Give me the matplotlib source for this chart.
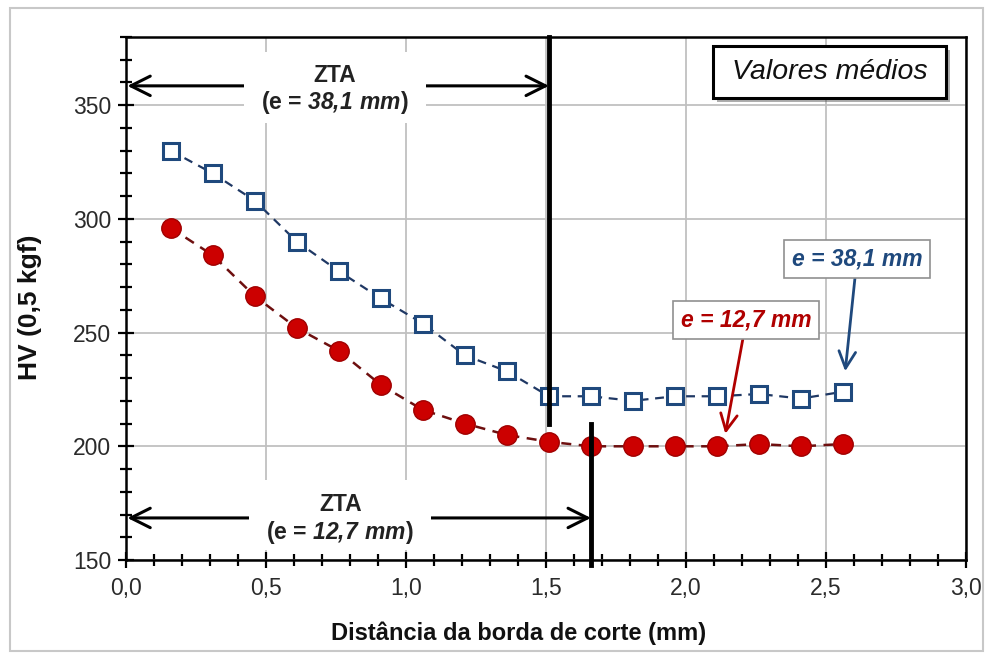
import matplotlib.pyplot as plt
import matplotlib.patheffects as pe
from matplotlib.patches import Rectangle
from matplotlib.ticker import MultipleLocator, FuncFormatter

plt.rcParams['font.family'] = ['Liberation Sans', 'DejaVu Sans']
plt.rcParams['mathtext.fontset'] = 'custom'
plt.rcParams['mathtext.rm'] = 'Liberation Sans:bold'
plt.rcParams['mathtext.bfit'] = 'Liberation Sans:italic:bold'

# Distance from cut edge (mm) and mean Vickers hardness
dist = [0.16, 0.31, 0.46, 0.61, 0.76, 0.91, 1.06, 1.21, 1.36, 1.51,
        1.66, 1.81, 1.96, 2.11, 2.26, 2.41, 2.56]
hv_381 = [330, 320, 308, 290, 277, 265, 254, 240, 233, 222,
          222, 220, 222, 222, 223, 221, 224]
hv_127 = [296, 284, 266, 252, 242, 227, 216, 210, 205, 202,
          200, 200, 200, 200, 201, 200, 201]

# heat affected zone limits
zta_381 = 1.51
zta_127 = 1.66

blue = '#1f497d'
red = '#cc0000'

fig = plt.figure(figsize=(9.92, 6.53), dpi=100)
fig.patches.append(Rectangle((0.010, 0.003), 0.981, 0.984, transform=fig.transFigure,
                             fill=False, edgecolor='#c8c8c8', linewidth=1.5))
ax = fig.add_axes([0.127, 0.1424, 0.847, 0.801])

ax.plot(dist, hv_381, linestyle=(0, (4, 3)), color='#1f3864', linewidth=1.6,
        marker='s', markersize=12, markerfacecolor='white',
        markeredgecolor=blue, markeredgewidth=2.2, zorder=4)
ax.plot(dist, hv_127, linestyle=(0, (4, 3)), color='#6e0f0f', linewidth=1.8,
        marker='o', markersize=14, markerfacecolor=red,
        markeredgecolor='#a00000', markeredgewidth=1, zorder=4)

ax.set_xlim(0, 3.0)
ax.set_ylim(150, 380)
ax.xaxis.set_major_locator(MultipleLocator(0.5))
ax.xaxis.set_minor_locator(MultipleLocator(0.1))
ax.yaxis.set_major_locator(MultipleLocator(50))
ax.yaxis.set_minor_locator(MultipleLocator(10))
ax.xaxis.set_major_formatter(FuncFormatter(lambda v, p: f'{v:.1f}'.replace('.', ',')))
ax.yaxis.set_major_formatter(FuncFormatter(lambda v, p: f'{v:.0f}'))
ax.tick_params(which='major', direction='inout', length=11, width=1.6,
               labelsize=16.5, labelcolor='#2a2a2a', pad=5)
ax.tick_params(axis='x', which='major', pad=7)
ax.tick_params(which='minor', direction='inout', length=9, width=1.6)
ax.tick_params(top=False, right=False, which='both')
ax.grid(True, which='major', color='#c0c0c0', linewidth=1.3)
ax.set_axisbelow(True)
for s in ax.spines.values():
    s.set_linewidth(1.8)
    s.set_color('black')

ax.set_ylabel('HV (0,5 kgf)', fontsize=19, fontweight='bold', color='#111111')
ax.yaxis.set_label_coords(-0.114, 0.484)
ax.yaxis.label.set_va('center')
ax.set_xlabel('Distância da borda de corte (mm)', fontsize=17, fontweight='bold',
              color='#111111')
ax.xaxis.set_label_coords(0.467, -0.1396)
ax.xaxis.label.set_va('center')

# vertical limit lines of the HAZ
ax.plot([zta_381, zta_381], [210, 380], color='black', linewidth=3.5, zorder=5, clip_on=False)
ax.plot([zta_127, zta_127], [148, 210], color='black', linewidth=3.5, zorder=5, clip_on=False)

# HAZ width arrows
for xend, ya, xt, ytop, ybox, lab in [
        (zta_381, 358.5, 0.745, 363.2, (342, 373.5), r'(e = $\mathbfit{38{,}1\ mm}$)'),
        (zta_127, 168.5, 0.765, 174.3, (154.5, 185.3), r'(e = $\mathbfit{12{,}7\ mm}$)')]:
    ax.annotate('', xy=(0.005, ya), xytext=(xend, ya),
                arrowprops=dict(arrowstyle='<->,head_length=0.7,head_width=0.35',
                                color='black', lw=2.2, mutation_scale=20,
                                shrinkA=0, shrinkB=0),
                zorder=3)
    ax.add_patch(Rectangle((xt - 0.325, ybox[0]), 0.65, ybox[1] - ybox[0],
                           facecolor='white', edgecolor='none', zorder=3.5))
    ax.text(xt, ytop, 'ZTA', ha='center', va='center', fontsize=16.5,
            fontweight='bold', color='#222222', zorder=6)
    ax.text(xt, ytop - 12.2, lab, ha='center', va='center', fontsize=16.5,
            fontweight='bold', color='#222222', zorder=6)

# mean values tag with drop shadow
tag = Rectangle((2.096, 353.3), 0.832, 22.7, facecolor='white', edgecolor='black',
                linewidth=2.2, zorder=7)
tag.set_path_effects([pe.SimplePatchShadow(offset=(3, -3), alpha=0.45), pe.Normal()])
ax.add_patch(tag)
ax.text(2.512, 364.4, 'Valores médios', ha='center', va='center', fontsize=20.5,
        fontstyle='italic', color='#111111', zorder=8)

# series labels
ax.annotate('e = 38,1 mm', xy=(2.568, 233), xytext=(2.61, 282.5),
            ha='center', va='center', fontsize=16.5, fontweight='bold',
            fontstyle='italic', color=blue, zorder=7,
            bbox=dict(boxstyle='square,pad=0.33', facecolor='white',
                      edgecolor='#909090', linewidth=1.2),
            arrowprops=dict(arrowstyle='->,head_length=0.6,head_width=0.3',
                            color=blue, lw=2, mutation_scale=20,
                            shrinkA=0, shrinkB=0))
ax.annotate('e = 12,7 mm', xy=(2.14, 205.5), xytext=(2.215, 255.5),
            ha='center', va='center', fontsize=16.5, fontweight='bold',
            fontstyle='italic', color='#b00000', zorder=7,
            bbox=dict(boxstyle='square,pad=0.33', facecolor='white',
                      edgecolor='#909090', linewidth=1.2),
            arrowprops=dict(arrowstyle='->,head_length=0.6,head_width=0.3',
                            color='#b00000', lw=2, mutation_scale=20,
                            shrinkA=0, shrinkB=0))

fig.savefig('out.png', dpi=100)
